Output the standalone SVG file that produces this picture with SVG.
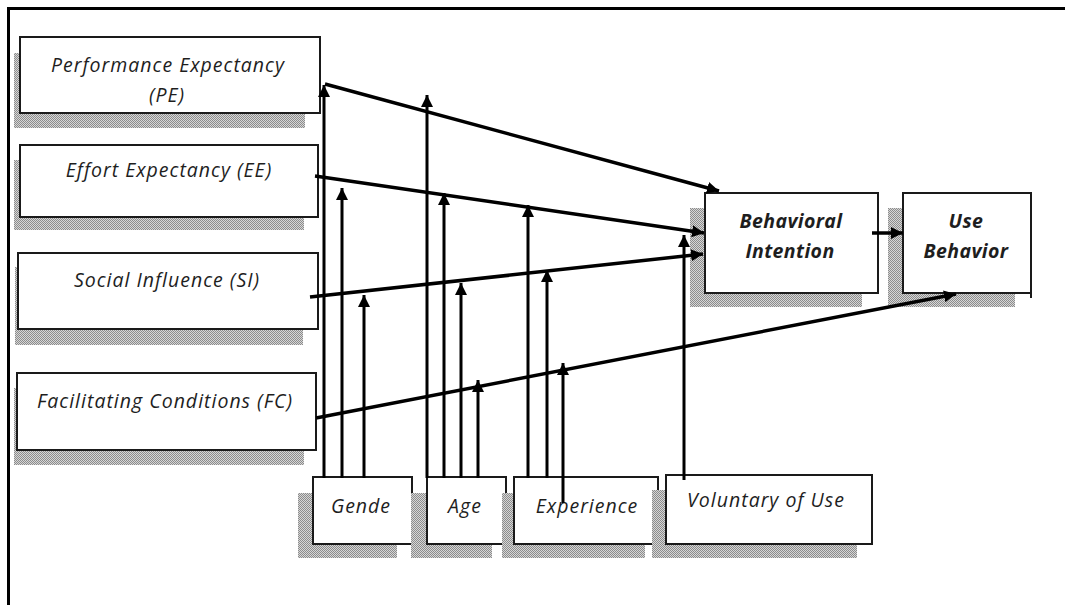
<svg xmlns="http://www.w3.org/2000/svg" width="1065" height="605" viewBox="0 0 1065 605">
  <defs>
    <!-- fine dotted fill used for the drop shadows -->
    <pattern id="dots" width="2" height="2" patternUnits="userSpaceOnUse">
      <rect width="2" height="2" fill="#d6d6d6"/>
      <rect width="1" height="1" fill="#8c8c8c"/>
      <rect x="1" y="1" width="1" height="1" fill="#8c8c8c"/>
    </pattern>
    <marker id="ah" viewBox="0 0 10 10" refX="10" refY="5" markerWidth="12" markerHeight="12" markerUnits="userSpaceOnUse" orient="auto">
      <path d="M0,0 L10,5 L0,10 z" fill="#000"/>
    </marker>
  </defs>
  <style>
    .shadow { fill: url(#dots); stroke: none; }
    .box { fill: #fff; stroke: #1a1a1a; stroke-width: 2; }
    .lbl { font-family: "Open Sans", "Liberation Sans", sans-serif; font-style: italic; font-size: 19.5px; letter-spacing: 1px; fill: #1e1e1e; text-anchor: middle; }
    .bold { font-weight: bold; letter-spacing: 0.4px; }
    .link { fill: none; stroke: #000; stroke-width: 3.5; marker-end: url(#ah); }
    .mod { fill: none; stroke: #000; stroke-width: 3; marker-end: url(#ah); }
  </style>

  <rect width="1065" height="605" fill="#fff"/>
  <!-- outer frame (top and left edges) -->
  <path d="M8.5,605 V8.5 H1065" fill="none" stroke="#000" stroke-width="3"/>

  <!-- determinants -->
  <g id="pe">
    <rect class="shadow" x="14" y="53" width="291" height="75"/>
    <rect class="box" x="20" y="37" width="300" height="76"/>
    <text class="lbl" x="168" y="72">Performance Expectancy</text>
    <text class="lbl" x="167" y="102">(PE)</text>
  </g>
  <g id="ee">
    <rect class="shadow" x="14" y="160" width="290" height="70"/>
    <rect class="box" x="20" y="145" width="298" height="72"/>
    <text class="lbl" x="169" y="177">Effort Expectancy (EE)</text>
  </g>
  <g id="si">
    <rect class="shadow" x="15" y="267" width="288" height="78"/>
    <rect class="box" x="18" y="253" width="300" height="76"/>
    <text class="lbl" x="167" y="287">Social Influence (SI)</text>
  </g>
  <g id="fc">
    <rect class="shadow" x="14" y="388" width="290" height="77"/>
    <rect class="box" x="17" y="373" width="299" height="77"/>
    <text class="lbl" x="165" y="408">Facilitating Conditions (FC)</text>
  </g>

  <!-- outcomes -->
  <g id="bi">
    <rect class="shadow" x="690" y="208" width="172" height="99"/>
    <rect class="box" x="705" y="193" width="173" height="100"/>
    <text class="lbl bold" x="791" y="228">Behavioral</text>
    <text class="lbl bold" x="790" y="258">Intention</text>
  </g>
  <g id="ub">
    <rect class="shadow" x="888" y="208" width="127" height="99"/>
    <path d="M1031,193 H903 V293 H1031 M1031,192 V298" class="box"/>
    <text class="lbl bold" x="966" y="228">Use</text>
    <text class="lbl bold" x="966" y="258">Behavior</text>
  </g>

  <!-- moderators -->
  <g id="gender">
    <rect class="shadow" x="298" y="493" width="99" height="65"/>
    <rect class="box" x="313" y="477" width="99" height="67"/>
    <text class="lbl" x="361" y="513">Gende</text>
  </g>
  <g id="age">
    <rect class="shadow" x="411" y="493" width="81" height="65"/>
    <rect class="box" x="427" y="477" width="79" height="67"/>
    <text class="lbl" x="465" y="513">Age</text>
  </g>
  <g id="experience">
    <rect class="shadow" x="502" y="493" width="143" height="65"/>
    <rect class="box" x="514" y="477" width="144" height="67"/>
    <text class="lbl" x="587" y="513">Experience</text>
  </g>
  <g id="voluntary">
    <rect class="shadow" x="652" y="490" width="205" height="68"/>
    <rect class="box" x="666" y="475" width="206" height="69"/>
    <text class="lbl" x="766" y="507">Voluntary of Use</text>
  </g>

  <g id="connectors">
    <!-- direct effects -->
    <line class="link" x1="325" y1="84" x2="719" y2="191"/>
    <line class="link" x1="315" y1="176" x2="704" y2="233"/>
    <line class="link" x1="310" y1="297" x2="703" y2="254"/>
    <line class="link" x1="316" y1="418" x2="956" y2="294"/>
    <line class="link" x1="872" y1="233" x2="903" y2="233" stroke-width="5"/>
    <!-- gender -->
    <line class="mod" x1="324" y1="478" x2="324" y2="85"/>
    <line class="mod" x1="342" y1="478" x2="342" y2="188"/>
    <line class="mod" x1="364" y1="478" x2="364" y2="295" stroke-width="4"/>
    <!-- age -->
    <line class="mod" x1="427" y1="478" x2="427" y2="95"/>
    <line class="mod" x1="444" y1="478" x2="444" y2="193"/>
    <line class="mod" x1="461" y1="478" x2="461" y2="283"/>
    <line class="mod" x1="478" y1="478" x2="478" y2="380"/>
    <!-- experience -->
    <line class="mod" x1="528" y1="478" x2="528" y2="205"/>
    <line class="mod" x1="547" y1="478" x2="547" y2="270"/>
    <line class="mod" x1="563" y1="503" x2="563" y2="363"/>
    <!-- voluntariness -->
    <line class="mod" x1="684" y1="480" x2="684" y2="235"/>
  </g>
</svg>
